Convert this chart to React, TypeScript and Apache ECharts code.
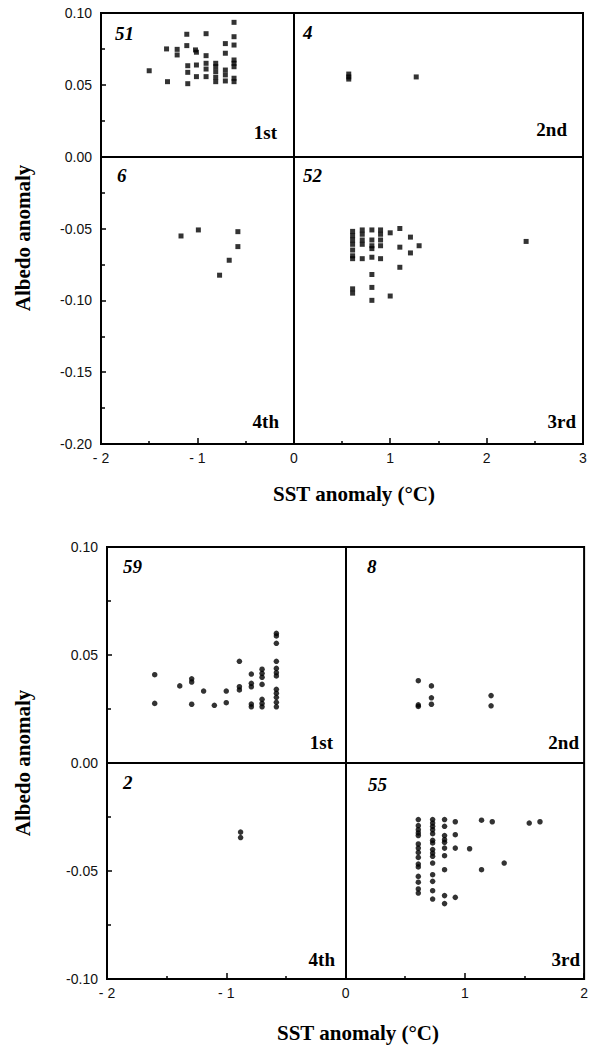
import React, { useEffect, useRef } from "react";
import * as echarts from "echarts";

// ---------- Data ----------
// Upper panel: squares
const topFirst: number[][] = [
  [-0.62, 0.0935], [-1.11, 0.0852], [-0.91, 0.0856], [-0.62, 0.0835], [-0.71, 0.0787],
  [-0.62, 0.0777], [-1.11, 0.0773], [-1.32, 0.075], [-1.21, 0.0747], [-1.02, 0.0743],
  [-1.21, 0.0708], [-1.01, 0.0727], [-0.91, 0.0703], [-0.71, 0.072], [-0.62, 0.0673],
  [-0.62, 0.065], [-0.62, 0.0626], [-0.91, 0.065], [-0.91, 0.061], [-0.81, 0.065],
  [-0.81, 0.0626], [-0.81, 0.0592], [-0.81, 0.0553], [-0.81, 0.0522], [-0.71, 0.0603],
  [-0.71, 0.0569], [-0.71, 0.0527], [-0.62, 0.0546], [-0.62, 0.0522], [-1.01, 0.0638],
  [-1.01, 0.0557], [-1.10, 0.0633], [-1.10, 0.0587], [-1.10, 0.0508], [-1.31, 0.0522],
  [-1.50, 0.0598], [-0.91, 0.0557],
];
const topSecond: number[][] = [[0.57, 0.0575], [0.57, 0.0555], [0.57, 0.054], [1.27, 0.0555]];
const topThird: number[][] = [
  [0.61, -0.052], [0.61, -0.055], [0.61, -0.058], [0.61, -0.061], [0.61, -0.065],
  [0.61, -0.069], [0.61, -0.071], [0.61, -0.092], [0.61, -0.095],
  [0.71, -0.051], [0.71, -0.054], [0.71, -0.058], [0.71, -0.061], [0.71, -0.071],
  [0.81, -0.051], [0.81, -0.058], [0.81, -0.062], [0.81, -0.064], [0.81, -0.07],
  [0.81, -0.082], [0.81, -0.091], [0.81, -0.1],
  [0.9, -0.051], [0.9, -0.054], [0.9, -0.058], [0.9, -0.062], [0.9, -0.071],
  [1.0, -0.053], [1.0, -0.097],
  [1.1, -0.05], [1.1, -0.063], [1.1, -0.077],
  [1.21, -0.056], [1.21, -0.067],
  [1.3, -0.062],
  [2.41, -0.059],
];
const topFourth: number[][] = [
  [-1.17, -0.0552], [-0.99, -0.051], [-0.58, -0.0522], [-0.58, -0.0626], [-0.67, -0.0721], [-0.77, -0.0825],
];

// Lower panel: dots
const botFirst: number[][] = [
  [-1.6, 0.0409], [-1.6, 0.0276], [-1.39, 0.0357], [-1.29, 0.039], [-1.29, 0.0375], [-1.29, 0.0272],
  [-1.19, 0.0333], [-1.1, 0.0267], [-1.0, 0.0333], [-1.0, 0.0279], [-0.89, 0.0471], [-0.89, 0.0353],
  [-0.89, 0.0338], [-0.79, 0.0412], [-0.79, 0.0369], [-0.79, 0.0353], [-0.79, 0.0273], [-0.79, 0.026],
  [-0.7, 0.0434], [-0.7, 0.0415], [-0.7, 0.0397], [-0.7, 0.0364], [-0.7, 0.0295], [-0.7, 0.0276],
  [-0.7, 0.026], [-0.58, 0.06], [-0.58, 0.0588], [-0.58, 0.0554], [-0.58, 0.0471], [-0.58, 0.0438],
  [-0.58, 0.0418], [-0.58, 0.0403], [-0.58, 0.0341], [-0.58, 0.0323], [-0.58, 0.0304], [-0.58, 0.0281],
  [-0.58, 0.026],
];
const botSecond: number[][] = [
  [0.61, 0.0381], [0.61, 0.0269], [0.61, 0.0262], [0.72, 0.0357], [0.72, 0.0302], [0.72, 0.0272],
  [1.22, 0.0312], [1.22, 0.0265],
];
const botThird: number[][] = [
  [0.61, -0.0262], [0.61, -0.029], [0.61, -0.0309], [0.61, -0.0324], [0.61, -0.0336], [0.61, -0.0375],
  [0.61, -0.0394], [0.61, -0.0414], [0.61, -0.0437], [0.61, -0.0468], [0.61, -0.0481], [0.61, -0.0525],
  [0.61, -0.0552], [0.61, -0.0583], [0.61, -0.0602],
  [0.73, -0.0262], [0.73, -0.0278], [0.73, -0.0293], [0.73, -0.0309], [0.73, -0.0327], [0.73, -0.0358],
  [0.73, -0.037], [0.73, -0.0401], [0.73, -0.0417], [0.73, -0.0432], [0.73, -0.0463], [0.73, -0.0517],
  [0.73, -0.0548], [0.73, -0.0591], [0.73, -0.063],
  [0.83, -0.0262], [0.83, -0.0293], [0.83, -0.0336], [0.83, -0.0355], [0.83, -0.0367], [0.83, -0.0394],
  [0.83, -0.0429], [0.83, -0.0494], [0.83, -0.0614], [0.83, -0.0651],
  [0.92, -0.0272], [0.92, -0.0332], [0.92, -0.0394], [0.92, -0.0622],
  [1.04, -0.0397],
  [1.14, -0.0265], [1.14, -0.0494],
  [1.23, -0.0272],
  [1.33, -0.0463],
  [1.54, -0.0278],
  [1.63, -0.0272],
];
const botFourth: number[][] = [[-0.88, -0.032], [-0.88, -0.0345]];

// Quadrant annotations
const quadrantNames = ["1st", "2nd", "3rd", "4th"];
const topCounts = ["51", "4", "52", "6"];
const botCounts = ["59", "8", "55", "2"];

// Axis ranges / tick labels
const topXRange = [-2, 3];
const botXRange = [-2, 2];
const topYRange = [-0.2, 0.1];
const botYRange = [-0.1, 0.1];

const SERIF = '"Liberation Serif", "Times New Roman", serif';
const SANS = '"Liberation Sans", Arial, Helvetica, sans-serif';

const G1 = { left: 101, top: 13, width: 482, height: 431 };
const G2 = { left: 107, top: 547, width: 481, height: 432 };

const xLabel = (v: number) => (v < 0 ? "- " + Math.abs(v) : String(v));
const yLabel = (v: number) => (Math.abs(v) < 1e-9 ? 0 : v).toFixed(2);

function makeX(idx: number, range: number[]) {
  return {
    type: "value",
    gridIndex: idx,
    min: range[0],
    max: range[1],
    interval: 1,
    axisLine: { show: true, onZero: false, lineStyle: { color: "#000", width: 2 } },
    axisTick: { show: true, inside: true, length: 6, lineStyle: { color: "#000", width: 1.5 } },
    minorTick: { show: true, splitNumber: 2, length: 3, lineStyle: { color: "#000", width: 1.5 } },
    splitLine: { show: false },
    axisLabel: {
      show: true,
      margin: 7,
      formatter: xLabel,
      color: "#111",
      fontFamily: SANS,
      fontSize: 14,
      showMinLabel: true,
      showMaxLabel: true,
    },
  };
}

function makeY(idx: number, range: number[]) {
  return {
    type: "value",
    gridIndex: idx,
    min: range[0],
    max: range[1],
    interval: 0.05,
    axisLine: { show: true, onZero: false, lineStyle: { color: "#000", width: 2 } },
    axisTick: { show: true, inside: true, length: 5, lineStyle: { color: "#000", width: 1.5 } },
    minorTick: { show: true, splitNumber: 2, length: 4, lineStyle: { color: "#000", width: 1.5 } },
    splitLine: { show: false },
    axisLabel: {
      show: true,
      margin: 9,
      formatter: yLabel,
      color: "#111",
      fontFamily: SANS,
      fontSize: 14,
      showMinLabel: true,
      showMaxLabel: true,
    },
  };
}

const zeroLines = {
  silent: true,
  symbol: ["none", "none"],
  label: { show: false },
  lineStyle: { color: "#000", width: 2, type: "solid" },
  data: [{ xAxis: 0 }, { yAxis: 0 }],
};

function scatter(idx: number, data: number[][], symbol: string, size: number, withLines = false) {
  return {
    type: "scatter",
    xAxisIndex: idx,
    yAxisIndex: idx,
    data,
    symbol,
    symbolSize: size,
    itemStyle: { color: "#000" },
    ...(withLines ? { markLine: zeroLines } : {}),
  };
}

function txt(text: string, x: number, y: number, align: string, vAlign: string, font: string, rotation = 0) {
  return {
    type: "text",
    x,
    y,
    rotation,
    silent: true,
    style: { text, fill: "#000", font, textAlign: align, textVerticalAlign: vAlign },
  };
}

const COUNT_FONT = `italic bold 19px ${SERIF}`;
const NAME_FONT = `bold 19px ${SERIF}`;
const TITLE_FONT = `bold 21px ${SERIF}`;

export default function App() {
  const ref = useRef<HTMLDivElement>(null);
  useEffect(() => {
    document.body.style.margin = "0";
    if (!ref.current) return;
    const chart = echarts.init(ref.current, undefined, { renderer: "svg" });
    chart.setOption({
      animation: false,
      backgroundColor: "#fff",
      grid: [
        { ...G1, show: true, borderColor: "#000", borderWidth: 2, containLabel: false },
        { ...G2, show: true, borderColor: "#000", borderWidth: 2, containLabel: false },
      ],
      xAxis: [makeX(0, topXRange), makeX(1, botXRange)],
      yAxis: [makeY(0, topYRange), makeY(1, botYRange)],
      series: [
        scatter(0, topFirst, "rect", 5, true),
        scatter(0, topSecond, "rect", 5),
        scatter(0, topThird, "rect", 5),
        scatter(0, topFourth, "rect", 5),
        scatter(1, botFirst, "circle", 5.5, true),
        scatter(1, botSecond, "circle", 5.5),
        scatter(1, botThird, "circle", 5.5),
        scatter(1, botFourth, "circle", 5.5),
      ],
      graphic: [
        // upper panel annotations
        txt(topCounts[0], 115, 24, "left", "top", COUNT_FONT),
        txt(topCounts[1], 303, 23, "left", "top", COUNT_FONT),
        txt(topCounts[2], 303, 166, "left", "top", COUNT_FONT),
        txt(topCounts[3], 117, 166, "left", "top", COUNT_FONT),
        txt(quadrantNames[0], 277, 142, "right", "bottom", NAME_FONT),
        txt(quadrantNames[1], 567, 139, "right", "bottom", NAME_FONT),
        txt(quadrantNames[2], 576, 431, "right", "bottom", NAME_FONT),
        txt(quadrantNames[3], 279, 431, "right", "bottom", NAME_FONT),
        // lower panel annotations
        txt(botCounts[0], 123, 557, "left", "top", COUNT_FONT),
        txt(botCounts[1], 367, 557, "left", "top", COUNT_FONT),
        txt(botCounts[2], 368, 775, "left", "top", COUNT_FONT),
        txt(botCounts[3], 123, 773, "left", "top", COUNT_FONT),
        txt(quadrantNames[0], 333, 752, "right", "bottom", NAME_FONT),
        txt(quadrantNames[1], 579, 752, "right", "bottom", NAME_FONT),
        txt(quadrantNames[2], 580, 969, "right", "bottom", NAME_FONT),
        txt(quadrantNames[3], 335, 969, "right", "bottom", NAME_FONT),
        // axis titles
        txt("Albedo anomaly", 23, 238, "center", "middle", TITLE_FONT, Math.PI / 2),
        txt("Albedo anomaly", 23, 763, "center", "middle", TITLE_FONT, Math.PI / 2),
        txt("SST anomaly (°C)", 354, 494, "center", "middle", TITLE_FONT),
        txt("SST anomaly (°C)", 358, 1033, "center", "middle", TITLE_FONT),
      ],
    });
    return () => chart.dispose();
  }, []);
  return <div ref={ref} style={{ width: 591, height: 1046 }} />;
}
